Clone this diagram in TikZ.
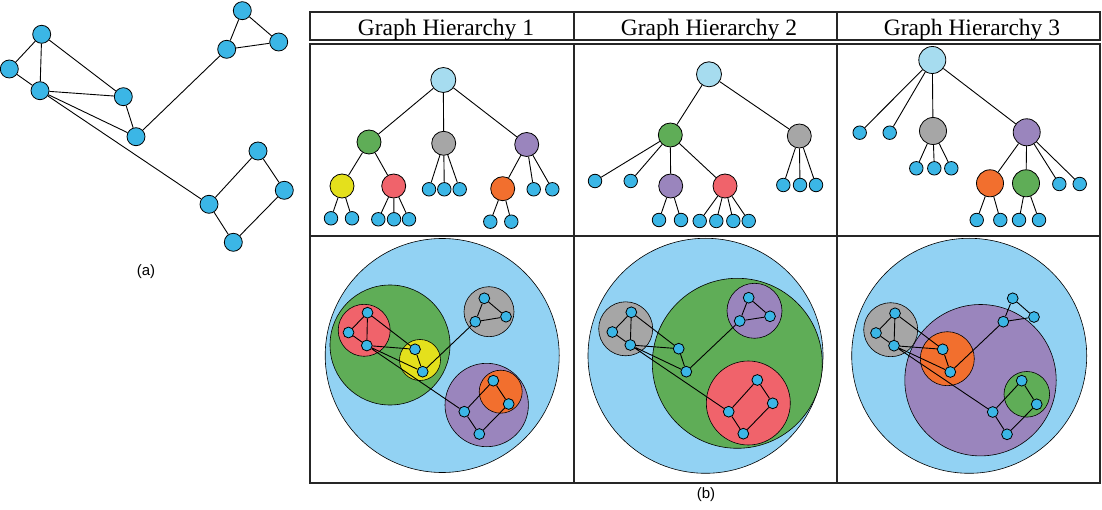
\documentclass[tikz,border=0pt]{standalone}
\usepackage{fontspec}
\setmainfont{Liberation Serif}
\newfontfamily\labsans{Liberation Sans}
\definecolor{rootblue}{HTML}{A6DCEF}
\definecolor{bigblue}{HTML}{92D2F3}
\definecolor{nodeblue}{HTML}{3BB6E6}
\definecolor{cgreen}{HTML}{5FAD57}
\definecolor{cgray}{HTML}{A6A6A6}
\definecolor{cpurple}{HTML}{9A85BD}
\definecolor{cyellow}{HTML}{E4E01C}
\definecolor{cred}{HTML}{F0636B}
\definecolor{corange}{HTML}{F26F2E}
\tikzset{
  edge/.style={line width=0.9pt, black},
  vtx/.style={circle, draw=black, line width=0.8pt, fill=nodeblue, inner sep=0pt, minimum size=#1},
  vtx/.default=13.5pt,
  big/.style={circle, draw=black, line width=0.8pt, inner sep=0pt, minimum size=24pt},
  cont/.style={circle, draw=black, line width=0.6pt, inner sep=0pt},
  frame/.style={line width=1.2pt, black!85},
  title/.style={font=\fontsize{23.5}{26}\selectfont, inner sep=0pt, anchor=base},
  sublab/.style={font=\labsans\fontsize{15}{17}\selectfont, inner sep=0pt},
}
\newcommand\gedges[1]{\draw[edge] (#1A)--(#1B) (#1B)--(#1C) (#1A)--(#1C) (#1A)--(#1D) (#1C)--(#1D) (#1C)--(#1E) (#1D)--(#1E) (#1E)--(#1F) (#1F)--(#1G) (#1G)--(#1H) (#1F)--(#1H) (#1C)--(#1K) (#1K)--(#1I) (#1I)--(#1J) (#1J)--(#1L) (#1L)--(#1K);}
\begin{document}
\begin{tikzpicture}[x=1pt,y=-1pt]
\useasboundingbox (0,0) rectangle (1102,510);
% ---------- (a) ----------
\foreach \n/\x/\y in {A/41.7/34.3, B/9.3/69, C/40/90.7, D/123.3/96.7, E/136/136.7, F/226.7/49.3, G/242.3/10.7, H/278.7/42, I/258/151, J/284.3/190.3, K/209/204.3, L/233.3/242.3}
  \node[vtx=18pt] (ga\n) at (\x,\y) {};
\gedges{ga}
\node[sublab] (laba) at (146,272) {(a)};
% ---------- frames ----------
\draw[frame] (310,12) rectangle (1100,40);
\draw[frame] (310,44) rectangle (1100,483);
\draw[frame] (574,12) -- (574,40) (837,12) -- (837,40);
\draw[frame] (574,44) -- (574,483) (837,44) -- (837,483);
\draw[frame] (310,236) -- (1100,236);
\node[title] (h1) at (446,35.5) {Graph Hierarchy 1};
\node[title] (h2) at (709,35.5) {Graph Hierarchy 2};
\node[title] (h3) at (972,35.5) {Graph Hierarchy 3};
\node[sublab] (labb) at (706,495) {(b)};
% ---------- tree 1 ----------
\node[big, fill=rootblue, minimum size=25pt] (t1root) at (443.3,80) {};
\node[big, fill=cgreen] (t1g) at (369,142) {};
\node[big, fill=cgray] (t1k) at (443.7,143.3) {};
\node[big, fill=cpurple] (t1p) at (526.7,144.5) {};
\node[big, fill=cyellow] (t1y) at (342,186) {};
\node[big, fill=cred] (t1r) at (393.7,186) {};
\node[big, fill=corange] (t1o) at (502.7,188.7) {};
\draw[edge] (t1root)--(t1g) (t1root)--(t1k) (t1root)--(t1p) (t1g)--(t1y) (t1g)--(t1r) (t1p)--(t1o);
\foreach \p/\i/\x/\y in {t1y/1/331/218.3, t1y/2/352/218.3, t1r/1/378.3/219.3, t1r/2/394/219.3, t1r/3/409/219.3, t1k/1/429/189.3, t1k/2/444.3/189.3, t1k/3/459.7/189.3, t1p/1/533.7/189.3, t1p/2/552.3/189.3, t1o/1/490.3/221.7, t1o/2/511.3/221.7}
  {\node[vtx] (\p l\i) at (\x,\y) {}; \draw[edge] (\p)--(\p l\i);}
% ---------- tree 2 ----------
\node[big, fill=rootblue, minimum size=25pt] (t2root) at (709,74.3) {};
\node[big, fill=cgreen] (t2g) at (670.3,135) {};
\node[big, fill=cgray] (t2k) at (799.3,136) {};
\node[big, fill=cpurple] (t2p) at (670.7,186) {};
\node[big, fill=cred] (t2r) at (725,186) {};
\draw[edge] (t2root)--(t2g) (t2root)--(t2k) (t2g)--(t2p) (t2g)--(t2r);
\foreach \p/\i/\x/\y in {t2g/1/595/181, t2g/2/630.7/181, t2k/1/783.3/185, t2k/2/800/185, t2k/3/816/185, t2p/1/659/220, t2p/2/681/220, t2r/1/699.7/221, t2r/2/716.3/221, t2r/3/733.3/221, t2r/4/748.7/221}
  {\node[vtx] (\p l\i) at (\x,\y) {}; \draw[edge] (\p)--(\p l\i);}
% ---------- tree 3 ----------
\node[big, fill=rootblue, minimum size=27pt] (t3root) at (932.3,60) {};
\node[big, fill=cgray, minimum size=27pt] (t3k) at (933,131) {};
\node[big, fill=cpurple, minimum size=27pt] (t3p) at (1026.7,132.3) {};
\node[big, fill=corange, minimum size=27pt] (t3o) at (990,183.3) {};
\node[big, fill=cgreen, minimum size=27pt] (t3g) at (1026,183.3) {};
\draw[edge] (t3root)--(t3k) (t3root)--(t3p) (t3p)--(t3o) (t3p)--(t3g);
\foreach \p/\i/\x/\y in {t3root/1/859.7/132.7, t3root/2/889.7/132.7, t3k/1/916.3/168.3, t3k/2/934.3/168.3, t3k/3/951.3/168.3, t3p/1/1059.3/184, t3p/2/1079.7/184, t3o/1/976.7/220, t3o/2/1000.3/220, t3g/1/1019/220, t3g/2/1039/220}
  {\node[vtx] (\p l\i) at (\x,\y) {}; \draw[edge] (\p)--(\p l\i);}
% ---------- circles panel 1 ----------
\node[cont, fill=bigblue, minimum size=234pt] (c1root) at (442.2,355.5) {};
\node[cont, fill=cgreen, minimum size=120pt] (c1g) at (390,345) {};
\node[cont, fill=cred, minimum size=52pt] (c1r) at (364.2,330.3) {};
\node[cont, fill=cyellow, minimum size=41pt] (c1y) at (420,360) {};
\node[cont, fill=cgray, minimum size=50pt] (c1k) at (489,311.7) {};
\node[cont, fill=cpurple, minimum size=83.4pt] (c1p) at (486.7,405) {};
\node[cont, fill=corange, minimum size=43pt] (c1o) at (500.7,391.7) {};
\foreach \n/\x/\y in {A/367.5/312.7, B/348.5/332.5, C/366.8/345.5, D/415/349.3, E/422.7/371.7, G/484.3/298.3, H/506/316.7, F/475.3/321.7, I/493.3/380.7, J/508.7/404, K/464.3/411.7, L/479.3/434}
  \node[vtx=10.8pt] (gb\n) at (\x,\y) {};
\gedges{gb}
% ---------- circles panel 2 ----------
\node[cont, fill=bigblue, minimum size=235pt] (c2root) at (705.5,355.8) {};
\node[cont, fill=cgreen, minimum size=170pt] (c2g) at (737.3,363.3) {};
\node[cont, fill=cgray, minimum size=54pt] (c2k) at (625.7,328.8) {};
\node[cont, fill=cpurple, minimum size=55pt] (c2p) at (754.5,310.8) {};
\node[cont, fill=cred, minimum size=84pt] (c2r) at (748.3,403) {};
\foreach \n/\x/\y in {A/631.3/312.3, B/612.3/332, C/630.3/345, D/678.7/348.7, E/686.3/371.7, G/748.7/297.7, H/770/316.3, F/739.7/321, I/757.3/380, J/772.7/403.3, K/728.7/411.7, L/743.3/433.7}
  \node[vtx=10.8pt] (gc\n) at (\x,\y) {};
\gedges{gc}
% ---------- circles panel 3 ----------
\node[cont, fill=bigblue, minimum size=235pt] (c3root) at (969.2,355.8) {};
\node[cont, fill=cpurple, minimum size=151.4pt] (c3p) at (980.5,380.2) {};
\node[cont, fill=cgray, minimum size=54pt] (c3k) at (890.7,329.7) {};
\node[cont, fill=corange, minimum size=54pt] (c3o) at (947.3,358.7) {};
\node[cont, fill=cgreen, minimum size=45.6pt] (c3g) at (1026.8,394.3) {};
\foreach \n/\x/\y in {A/895/313.3, B/876/333, C/894/345.7, D/942.7/349.3, E/950.3/372, G/1012.7/298.3, H/1034/317, F/1003.3/321.7, I/1021.7/380.7, J/1036.7/404.3, K/992.7/412, L/1007/434.3}
  \node[vtx=10.8pt] (gd\n) at (\x,\y) {};
\gedges{gd}
\end{tikzpicture}
\end{document}
